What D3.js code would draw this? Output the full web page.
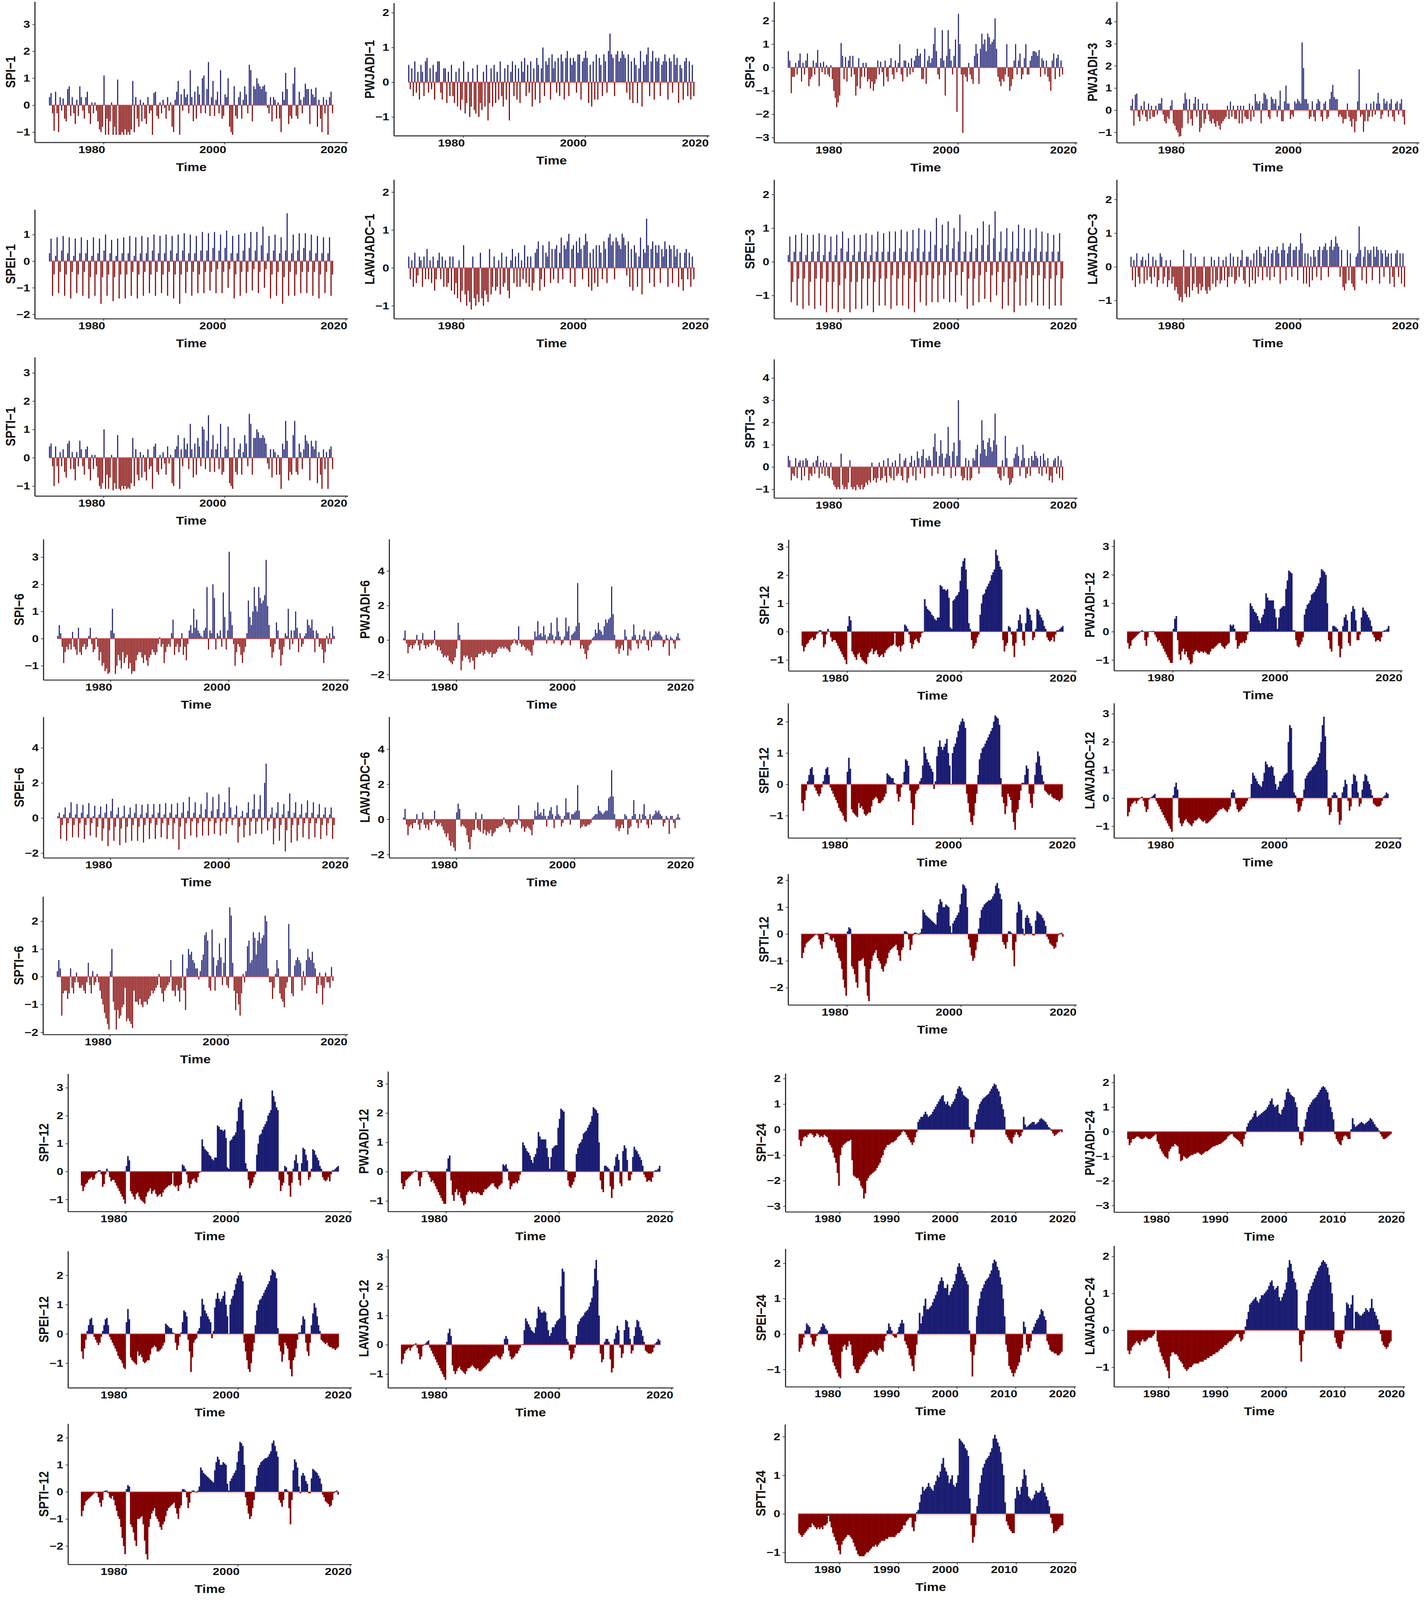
<!DOCTYPE html>
<html>
<head>
<meta charset="utf-8">
<script src="https://cdn.jsdelivr.net/npm/d3@7"></script>
<style>
  html, body { margin: 0; padding: 0; background: #fff; overflow: hidden; }
  #fig { display: block; width: 100vw; height: 100vh; }
  svg text { font-family: "Liberation Sans", Arial, Helvetica, sans-serif; font-weight: bold; fill: #111; }
</style>
</head>
<body>
<svg id="fig" viewBox="0 0 3647 4810" preserveAspectRatio="none"></svg>
<script>
// Drought index series, one value per quarter.
// 1-, 3- and 6-month indices start in 1971, 12-month in 1972, 24-month in 1973.

/**********************************************************************************
 * 1-month
 *********************************************************************************/
var spi1 = [
  0.3,0.45,-0.3,-0.95, 0.5,-0.3,-1,0.3, -0.2,0.25,-0.5,-0.6, 0.6,0.7,-0.4,0.3,
  -0.3,-0.7,0.2,-0.4, 0.7,0.3,-0.2,-0.5, 0.3,0.5,-0.3,-0.7, 0.1,-0.3,0.1,-0.2,
  -0.6,-0.9,-1,-0.8, 1.1,-1.1,-0.5,-1.1, -0.6,0.1,-1.1,-0.8, -1.1,0.95,-1.1,-1.1,
  -1,-1.1,-0.9,-1.1, -1,-1.1,-0.9,0.9, -1,0.3,-0.5,-0.8, 0.2,-0.6,0.1,-0.5,
  -0.7,0.3,-0.3,-0.2, -1.1,0.45,0.5,-0.4, -0.5,0.1,-0.3,0.2, -0.1,-0.5,0.3,-0.2,
  0.1,-0.8,-1,0.2, 0.5,0.9,-1.1,0.4, -0.2,0.6,0.3,0.4, -0.3,1.3,0.3,-0.6,
  0.5,-0.5,0.7,0.4, -0.3,1,1.1,-0.3, 0.6,1.6,-0.4,0.3, 0.9,-0.4,0.2,0.5,
  -0.3,1.3,-0.5,-0.4, 0.4,0.3,1,-0.8, -1,-1.1,0.7,-0.4, -0.5,0.3,0.5,-0.5,
  0.2,0.7,0.4,-0.3, 1.5,1.3,-0.6,0.7, 0.6,1,0.8,0.7, 0.6,0.7,0.75,0.5,
  -0.1,-0.3,0.3,-0.6, 0.3,0.2,-0.5,0.1, -0.5,-1,0.5,0.2, 1.2,0.6,-0.7,-0.4,
  -0.5,0.8,1.4,-0.4, -0.5,0.5,0.2,-0.3, 0.3,0.8,0.6,0.6, -0.7,0.6,0.4,0.3,
  0.65,-0.8,0.2,-0.5, -1,0.3,-0.3,0.2, -1.1,0.3,0.5,-0.3
];
var pwjadi1 = [
  0.5,-0.2,0.4,-0.4, 0.6,-0.3,0.3,-0.5, 0.5,0.3,-0.4,0.6, 0.7,-0.3,0.4,-0.2,
  0.5,-0.5,0.3,0.6, 0.6,-0.3,-0.5,0.4, 0.4,-0.6,0.3,-0.4, 0.5,-0.4,-0.6,0.3,
  -0.7,0.4,-0.8,-0.5, 0.6,-0.9,-0.6,0.3, -1,-0.7,0.4,-0.8, -0.9,0.5,-1,-0.6,
  -0.8,0.3,-0.7,0.5, -1.1,-0.6,0.4,-0.7, 0.5,-0.6,0.3,-0.5, 0.6,-0.4,-0.7,0.4,
  -0.5,0.5,-1.1,0.3, 0.6,-0.4,0.5,-0.5, 0.4,-0.6,0.6,0.3, 0.7,-0.4,0.5,-0.3,
  0.6,-0.7,0.4,-0.5, 0.7,0.5,-0.6,0.4, 1,-0.4,0.6,0.5, 0.7,-0.5,0.8,0.4,
  0.6,-0.3,0.7,-0.4, 0.8,0.6,-0.5,0.7, 0.9,-0.4,0.7,0.5, 0.7,0.6,-0.3,0.8,
  0.8,-0.5,0.6,0.7, 0.9,0.7,-0.6,0.5, -0.7,0.6,-0.5,0.8, -0.5,0.7,0.5,-0.4,
  0.8,0.6,-0.3,0.9, 1.4,0.8,0.7,-0.4, 0.8,0.9,0.6,0.7, 0.9,0.8,0.7,-0.3,
  0.8,-0.5,0.6,-0.6, 0.7,0.5,-0.6,0.4, 0.9,-0.7,0.6,0.5, 0.8,1,-0.4,0.6,
  0.9,-0.5,0.7,0.6, 0.7,-0.4,0.5,0.6, 0.8,0.6,-0.5,0.7, 0.6,-0.3,0.8,0.5,
  0.7,-0.6,0.5,0.4, -0.5,0.6,0.7,-0.4, 0.6,-0.5,0.5,-0.4
];
var spei1 = [
  0.3,0.85,-1.3,-0.5, 0.2,0.9,-1.2,-0.4, 0.4,0.95,-1.3,-0.5, 0.3,0.9,-1.4,-0.4,
  0.2,0.85,-1.2,-0.5, 0.3,0.9,-1.3,-0.4, 0.3,0.8,-1.4,-0.6, 0.2,0.9,-1.3,-0.5,
  0.3,0.85,-1.6,-0.6, 0.4,1,-1.3,-0.5, 0.3,0.8,-1.5,-0.6, 0.2,0.85,-1.4,-0.5,
  0.3,0.9,-1.4,-0.5, 0.3,0.95,-1.3,-0.4, 0.2,0.9,-1.4,-0.5, 0.3,0.95,-1.3,-0.4,
  0.3,0.9,-1.2,-0.5, 0.4,1,-1.3,-0.4, 0.3,0.95,-1.2,-0.5, 0.3,1,-1.3,-0.4,
  0.4,0.95,-1.4,-0.5, 0.3,1,-1.6,-0.5, 0.4,1.05,-1.2,-0.4, 0.3,1,-1.3,-0.4,
  0.3,0.95,-1.2,-0.5, 0.4,1.1,-1.2,-0.4, 0.4,1.05,-1.1,-0.4, 0.5,1.1,-1.2,-0.3,
  0.4,1,-1.2,-0.4, 0.5,1.15,-1,-0.3, 0.3,0.95,-1.4,-0.5, 0.3,1,-1.3,-0.4,
  0.4,1.05,-1.2,-0.4, 0.5,1.1,-1.1,-0.3, 0.4,1.1,-1.2,-0.4, 0.6,1.3,-1,-0.3,
  0.3,0.95,-1.4,-0.5, 0.4,1,-1.3,-0.4, 0.3,0.9,-1.6,-0.6, 0.4,1.8,-1.3,-0.4,
  0.3,1,-1.3,-0.5, 0.4,1.05,-1.2,-0.4, 0.5,1.05,-1.2,-0.4, 0.4,1,-1.3,-0.4,
  0.3,0.95,-1.4,-0.5, 0.3,0.9,-1.2,-0.4, 0.3,0.9,-1.3,-0.5
];
var lawjadc1 = [
  0.3,-0.3,0.2,-0.5, 0.4,-0.4,-0.2,0.3, 0.2,-0.5,0.3,-0.3, 0.5,-0.3,0.2,-0.4,
  0.3,-0.6,-0.3,0.2, 0.4,-0.3,0.3,-0.5, 0.2,-0.5,-0.4,0.3, -0.6,0.3,-0.7,-0.4,
  -0.8,0.2,-0.9,-0.6, 0.6,-0.7,-1,-0.6, -0.9,-1.1,0.3,-0.8, -1,-0.7,-0.9,0.4,
  -0.8,-1,-0.6,-0.7, -0.9,0.5,-0.7,-0.5, 0.3,-0.6,-0.5,0.2, -0.7,0.4,-0.5,-0.4,
  0.3,-0.6,-0.8,0.2, 0.5,-0.4,0.3,-0.5, 0.4,-0.5,0.2,-0.3, 0.6,-0.4,0.3,-0.5,
  0.3,-0.6,-0.4,0.4, 0.5,0.7,-0.6,-0.3, 0.6,-0.5,0.4,0.3, 0.7,-0.4,0.5,-0.3,
  0.5,0.6,-0.4,0.4, 0.8,-0.3,0.6,0.5, 0.7,0.9,-0.4,0.5, 0.6,-0.5,0.7,0.4,
  0.8,0.5,-0.3,0.6, 0.9,0.7,-0.5,0.4, -0.6,0.5,-0.4,0.6, -0.5,0.6,0.4,-0.3,
  0.7,0.5,-0.4,0.8, 0.9,0.6,0.7,-0.3, 0.8,0.7,0.6,0.5, 0.9,0.8,0.6,-0.2,
  0.7,-0.5,0.5,-0.6, 0.6,0.4,-0.5,0.3, 0.8,-0.7,0.5,0.4, 1.3,0.6,-0.4,0.5,
  0.7,-0.5,0.6,0.4, 0.6,-0.4,0.5,0.3, 0.7,0.5,-0.5,0.6, 0.5,-0.4,0.6,0.3,
  0.5,-0.5,0.4,-0.3, -0.6,0.4,0.5,-0.3, 0.4,-0.5,0.3,-0.3
];
var spti1 = [
  0.4,0.5,-0.3,-1, 0.4,-0.3,-0.9,0.2, -0.3,0.3,-0.5,-0.7, 0.5,0.6,-0.4,0.2,
  -0.4,-0.8,0.2,-0.3, 0.6,0.3,-0.3,-0.6, 0.3,0.4,-0.4,-0.8, 0.1,-0.4,0.1,-0.3,
  -0.7,-1,-1.1,-0.9, 1,-1.1,-0.6,-1.1, -0.7,0.1,-1.15,-0.9, -1.1,0.8,-1.1,-1.15,
  -1,-1.1,-1,-1.1, -1.05,-1.1,-0.9,0.7, -1,0.3,-0.6,-0.8, 0.2,-0.7,0.1,-0.5,
  -0.8,0.3,-0.4,-0.3, -1.1,0.4,0.5,-0.5, -0.6,0.1,-0.4,0.2, -0.2,-0.6,0.4,-0.2,
  0.1,-0.9,-1,0.3, 0.4,0.8,-1.1,0.3, -0.3,0.7,0.3,0.5, -0.4,1.2,0.3,-0.7,
  0.5,-0.6,0.7,0.4, -0.3,1.1,1,-0.4, 0.6,1.5,-0.5,0.3, 0.8,-0.5,0.3,0.5,
  -0.4,1.2,-0.6,-0.5, 0.4,0.3,1.1,-0.9, -1,-1.1,0.7,-0.5, -0.6,0.3,0.5,-0.6,
  0.2,0.8,0.5,-0.3, 1.55,1.2,-0.6,0.7, 0.7,1,0.9,0.7, 0.7,0.8,0.7,0.5,
  -0.2,-0.4,0.3,-0.7, 0.3,0.2,-0.6,0.1, -0.6,-1.1,0.5,0.3, 1.3,0.6,-0.8,-0.5,
  -0.6,0.8,1.3,-0.5, -0.6,0.5,0.2,-0.4, 0.3,0.8,0.6,0.5, -0.8,0.6,0.4,0.3,
  0.6,-0.9,0.2,-0.6, -1.1,0.3,-0.4,0.2, -1.1,0.3,0.4,-0.4
];

/**********************************************************************************
 * 3-month
 *********************************************************************************/
var spi3 = [
  0.7,0.3,-1.1,-0.4, -0.4,0.2,-0.3,0.3, 0.6,-0.6,0.2,-0.3, 0.3,0.6,-0.8,-0.5,
  -0.4,0.3,-0.3,0.2, 0.75,-0.8,0.2,-0.2, 0.25,-0.3,0.1,-0.3, -0.4,0.1,-0.5,-1,
  -1.3,-1.7,-1.5,-1.2, 1.05,0.5,-0.5,0.45, -0.6,0.3,0.5,-0.4, 0.5,-0.3,-1.2,-0.8,
  0.4,-0.9,-0.4,0.2, -0.4,0.2,-0.6,-0.5, -0.9,-0.6,-1,-0.7, -0.5,0.3,-0.3,0.25,
  -0.2,-0.8,0.3,-0.4, -0.6,0.1,0.4,-0.3, -0.5,0.3,-0.2,0.2, 1,-0.3,-0.6,0.3,
  0.3,-0.4,0.2,-0.3, 0.4,-0.2,0.3,0.5, 0.8,0.5,0.6,-0.5, -0.5,0.8,-0.7,0.3,
  0.5,0.2,0.4,1, 1.7,0.7,-0.3,-0.5, 0.4,1.6,0.3,-1.2, 0.5,1.6,0.8,0.3,
  -0.3,0.5,1.2,-1.9, 2.3,1,-0.3,-2.8, -0.3,-0.4,-0.6,0.2, -0.3,-0.5,-0.7,0.5,
  1,0.6,-0.7,0.8, 1.45,1,1.2,0.7, 1.45,1.3,1,1.1, 1.2,2.1,0.8,-0.4,
  -0.6,-0.8,-0.5,-0.6, -0.3,1,-0.4,-1, -0.8,-0.5,0.3,1, -0.3,0.3,0.6,-0.5,
  -0.3,0.4,1,-0.3, -0.3,0.3,0.5,0.7, 0.7,0.65,0.5,0.75, -0.4,0.4,0.3,-0.3,
  0.3,-0.4,-0.6,-1, 0.3,0.6,-0.5,0.4, 0.55,-0.4,0.3,-0.3
];
var pwjadi3 = [
  0.2,0.5,-0.7,0.7, 0.75,-0.3,-0.5,0.2, -0.2,0.4,-0.3,-0.5, 0.3,-0.4,0.2,-0.3,
  -0.3,0.2,-0.2,0.3, 0.3,0.55,-0.2,-0.5, -0.6,-0.3,-0.4,0.2, 0.45,-0.6,-0.7,-0.9,
  -1,-1.2,-1.17,-0.8, 0.3,0.78,0.5,-0.6, 0.5,-0.4,-0.7,0.3, 0.6,-0.3,0.5,-0.98,
  -0.8,0.3,-0.6,-0.4, 0.3,-0.2,-0.5,-0.6, -0.4,-0.6,-0.75,-0.5, -0.7,-0.88,-0.6,-0.5,
  -0.4,-0.3,0.2,-0.4, 0.39,-0.3,0.2,-0.4, -0.4,0.2,-0.6,0.2, -0.6,0.2,-0.3,-0.4,
  -0.4,0.3,-0.5,0.2, -0.3,0.73,0.4,0.3, 0.4,-0.6,0.3,0.78, 0.7,0.5,-0.3,-0.4,
  0.6,0.5,0.3,0.5, -0.3,0.2,0.88,-0.5, -0.5,0.4,1.11,0.3, 0.3,-0.4,-0.2,-0.3,
  0.4,0.3,0.5,0.4, 0.3,3.06,1.9,0.5, 0.5,0.3,-0.4,-0.3, 0.4,-0.3,-0.5,0.3,
  0.5,0.4,-0.3,-0.5, 0.3,0.4,-0.4,-0.3, 0.5,0.83,1.14,0.6, 0.5,0.5,-0.3,-0.2,
  -0.3,-0.6,-0.4,-0.4, 0.3,-0.3,-0.5,-0.75, -0.4,-1,-0.5,0.4, 1.84,-0.3,-0.2,-0.98,
  -0.5,0.3,-0.5,-0.3, 0.3,-0.3,0.4,-0.2, 0.3,0.78,0.3,-0.4, -0.2,0.52,0.3,0.4,
  -0.3,0.3,0.5,-0.3, -0.5,0.3,0.4,-0.2, 0.3,0.5,-0.3,-0.65
];
var spei3 = [
  0.2,0.75,-1.2,-0.6, 0.3,0.8,-1.3,-0.5, 0.3,0.85,-1.4,-0.5, 0.2,0.8,-1.3,-0.6,
  0.3,0.8,-1.4,-0.5, 0.3,0.85,-1.3,-0.5, 0.2,0.8,-1.5,-0.6, 0.3,0.75,-1.4,-0.6,
  0.2,0.8,-1.5,-0.7, 0.4,0.9,-1.4,-0.5, 0.3,0.7,-1.5,-0.6, 0.2,0.8,-1.4,-0.6,
  0.3,0.8,-1.4,-0.5, 0.3,0.85,-1.3,-0.5, 0.2,0.8,-1.5,-0.6, 0.3,0.9,-1.3,-0.5,
  0.3,0.85,-1.3,-0.5, 0.3,0.9,-1.4,-0.4, 0.3,0.9,-1.3,-0.5, 0.4,0.95,-1.3,-0.4,
  0.3,0.9,-1.4,-0.5, 0.3,0.95,-1.5,-0.6, 0.4,1,-1.2,-0.4, 0.3,0.95,-1.3,-0.4,
  0.3,0.9,-1.2,-0.5, 0.5,1.3,-1.2,-0.4, 0.4,1.1,-1.1,-0.4, 0.5,1.2,-1.2,-0.3,
  0.4,1,-1.2,-0.4, 0.6,1.4,-1,-0.3, 0.3,0.9,-1.4,-0.5, 0.3,0.8,-1.3,-0.5,
  0.4,1,-1.2,-0.4, 0.5,1.2,-1.1,-0.3, 0.5,1.1,-1.2,-0.4, 0.7,1.5,-1,-0.3,
  0.3,0.9,-1.4,-0.6, 0.4,1,-1.3,-0.5, 0.3,0.9,-1.5,-0.6, 0.4,1.1,-1.3,-0.4,
  0.3,1,-1.3,-0.5, 0.3,0.95,-1.2,-0.4, 0.4,1,-1.3,-0.4, 0.3,0.9,-1.3,-0.5,
  0.3,0.85,-1.4,-0.5, 0.3,0.8,-1.3,-0.4, 0.3,0.85,-1.3,-0.5
];
var lawjadc3 = [
  0.3,-0.4,0.2,-0.6, 0.4,-0.3,-0.5,0.2, 0.3,-0.5,0.2,-0.4, 0.4,-0.3,-0.5,0.3,
  -0.3,0.2,-0.6,-0.4, 0.4,0.3,-0.5,-0.3, 0.2,-0.6,-0.4,0.2, -0.5,-0.3,-0.7,-0.6,
  -0.8,-1,-0.9,-1.05, 0.5,-0.8,-0.9,-0.6, -0.9,0.4,-0.7,-0.5, 0.3,-0.6,-0.8,-0.5,
  -0.7,-0.6,0.3,-0.7, -0.8,-0.6,-0.7,0.3, -0.5,0.2,-0.6,-0.4, 0.3,-0.5,-0.4,0.2,
  -0.4,0.3,-0.6,-0.3, 0.4,-0.3,0.3,-0.5, -0.4,0.3,-0.3,0.2, 0.5,-0.4,-0.5,0.3,
  0.3,-0.6,0.2,-0.4, 0.4,-0.5,0.5,-0.3, 0.6,0.4,-0.4,0.3, 0.5,-0.3,0.6,-0.4,
  0.4,0.5,-0.3,0.5, 0.6,0.4,-0.5,0.5, 0.7,0.5,-0.4,0.4, 0.6,0.7,-0.3,0.5,
  0.5,0.6,-0.4,0.5, 1,0.7,-0.5,0.4, -0.5,0.4,-0.6,0.3, -0.4,0.5,0.3,-0.3,
  0.5,0.6,-0.4,0.5, 0.6,0.7,0.5,-0.3, 0.6,0.8,0.5,0.6, 0.9,0.7,0.6,-0.3,
  0.5,-0.6,-0.7,-0.5, 0.5,-0.4,0.4,-0.5, -0.6,-0.7,0.3,0.4, 1.2,0.5,-0.4,0.3,
  0.6,-0.5,0.5,0.4, 0.5,-0.4,0.6,0.3, 0.6,0.5,-0.5,0.5, 0.4,-0.3,0.5,0.3,
  0.4,-0.5,0.4,-0.3, -0.6,0.4,0.5,-0.3, 0.4,-0.5,0.4,-0.6
];
var spti3 = [
  0.5,0.3,-0.6,-0.3, -0.4,0.4,-0.5,0.2, 0.3,-0.6,0.3,-0.4, 0.4,0.3,-0.6,-0.3,
  -0.4,0.2,-0.3,0.3, 0.5,-0.5,0.2,-0.3, 0.3,-0.4,0.2,-0.4, -0.5,0.2,-0.6,-0.8,
  -0.9,-1,-0.9,-1, 0.6,-0.8,-1,-0.9, -1,-0.7,0.3,-0.9, -1,-0.9,-1.05,-0.8,
  -0.9,-1,-0.8,-1, -0.9,-0.7,-0.8,-0.6, -0.7,0.2,-0.6,-0.5, -0.7,-0.5,0.2,-0.6,
  -0.5,0.3,-0.4,-0.7, 0.4,-0.4,-0.5,0.2, -0.6,0.3,-0.4,-0.3, 0.6,-0.4,-0.6,0.3,
  0.4,-0.7,-0.5,0.2, 0.5,-0.4,0.3,-0.6, 0.7,0.4,-0.3,0.5, 0.8,-0.5,0.4,0.3,
  0.5,0.3,-0.4,0.9, 1.5,0.7,-0.3,0.5, 1.2,0.6,-0.4,0.4, 0.6,1.8,0.5,-0.5,
  0.7,1.1,-0.4,0.5, 3,1.2,-0.4,-0.6, -0.5,0.4,-0.6,0.3, -0.6,-0.5,0.4,0.3,
  0.8,1,-0.3,0.6, 2.1,1.2,0.8,0.5, 1.1,1.3,0.9,0.7, 1.2,2.4,1,-0.3,
  -0.5,-0.6,0.3,-0.4, 1.4,0.4,-0.5,-0.8, -0.7,-0.5,0.4,0.6, 0.9,0.5,-0.4,0.3,
  1,0.4,-0.5,-0.3, 0.4,-0.4,0.5,0.3, 0.7,0.5,0.4,-0.3, 0.5,-0.4,0.6,0.3,
  -0.3,0.4,-0.6,-0.4, -0.7,0.3,0.4,-0.3, 0.5,-0.5,0.3,-0.6
];

/**********************************************************************************
 * 6-month
 *********************************************************************************/
var spi6 = [
  0.1,0.5,0.2,-0.3, -0.9,-0.5,-0.3,-0.4, -0.2,-0.4,0.25,-0.3, -0.4,-0.6,0.4,-0.5,
  -0.6,-0.3,-0.2,-0.4, -0.3,0.1,0.4,-0.2, -0.5,-0.4,0.05,-0.3, -0.8,-0.5,-1,-0.9,
  -1.2,-1.1,-1.3,-1.25, 0.3,1.1,0.2,-1.3, -1,-0.6,-0.8,-1.1, -0.5,-0.9,-0.7,-0.6,
  -1.1,-0.9,-1.3,-1.2, -1.2,-0.8,-0.6,-0.5, -0.5,-0.7,-0.9,-0.6, -0.8,-1,-0.7,-0.6,
  -0.4,-0.5,-0.6,-0.5, -0.2,0.05,-0.3,-0.2, -0.9,-0.5,-0.3,-0.2, -0.3,0.2,0.7,-0.6,
  -0.3,-0.2,-0.5,-0.3, 0.2,-0.6,-0.3,-0.8, -0.2,0.3,0.5,0.2, 1.1,0.4,0.7,0.3,
  0.2,0.1,0.05,0.3, 0.4,1.9,-0.4,0.3, 0.2,2,1.5,-0.4, 0.2,0.1,0.3,-0.3,
  1.7,0.8,-0.4,0.3, 3.2,1,0.5,-0.2, -1,-0.5,-0.2,-0.3, -0.6,-0.9,-0.5,-0.3,
  0.2,1.4,0.8,0.5, 1,1.9,1.2,1, 1.9,1.5,1.3,1.4, 1.6,2.9,1.2,0.5,
  -0.3,-0.7,-0.5,-0.2, 0.6,0.3,-0.4,-1, -0.6,-0.3,0.2,0.1, 1.1,-0.4,0.3,-0.2,
  0.3,1,0.4,-0.5, 0.2,-0.3,-0.2,0.1, 0.2,0.7,0.5,0.4, 0.7,0.3,-0.5,0.3,
  0.2,-0.3,-0.2,-0.4, -0.9,-0.5,0.1,-0.2, 0.2,-0.2,0.45,0.1
];
var pwjadi6 = [
  0.1,0.55,-0.2,-0.76, -0.4,-0.3,-0.5,-0.3, -0.2,0.3,-0.3,-0.6, -0.2,0.4,-0.3,-0.5,
  -0.3,-0.4,-0.2,-0.3, -0.2,0.55,-0.3,-0.6, -0.4,-0.6,-0.8,-1, -0.9,-1,-0.9,-1.2,
  -1.3,-1.4,-1.2,-1, -0.5,1,0.3,-1.75, -1.2,-0.9,-1,-0.9, -1.1,-1.3,-1,-1.2,
  -1.7,-1,-1,-0.8, -0.8,-0.7,-0.9,-0.8, -0.6,-0.7,-0.8,-0.7, -1,-0.8,-0.8,-0.7,
  -0.5,-0.4,-0.5,-0.4, -0.5,-0.4,-0.5,-0.6, -0.7,-0.3,-0.2,0.05, -0.2,-0.3,0.8,-0.2,
  -0.4,-0.3,-0.4,-0.6, -0.5,-0.6,-0.7,-0.9, -0.3,0.5,0.2,1.1, 0.3,0.4,0.2,0.8,
  0.3,-0.2,0.2,0.4, 1,0.3,-0.2,0.2, 1.3,0.5,0.2,-0.3, -0.2,0.2,1.3,0.5,
  0.8,-0.3,0.3,0.4, 0.5,0.8,3.3,1, -0.5,-0.3,-0.5,-0.8, -1.1,-0.6,-0.3,-0.2,
  0.1,0.2,0.6,0.4, 1,0.6,0.5,0.3, 0.8,1.2,1,1.2, 1.3,3.1,1.5,0.3,
  -0.5,-0.4,-0.8,-0.5, -0.3,-0.6,0.6,0.2, -0.9,-0.5,-0.6,0.2, 0.9,0.3,-0.2,-0.5,
  0.3,-0.2,0.2,0.6, 0.2,-0.3,-0.6,0.5, -0.4,0.2,0.3,0.5, 0.4,0.5,0.3,0.2,
  -0.4,-0.2,0.3,0.1, -0.9,0.2,0.1,-0.2, -0.5,0.2,0.4,0.1
];
var spei6 = [
  0.1,0.3,-1.2,-0.4, 0.2,0.6,-1.3,-0.3, 0.3,0.9,-1.1,-0.4, 0.2,0.8,-1.1,-0.3,
  0.3,0.75,-1.2,-0.4, 0.2,0.85,-1,-0.3, 0.1,0.7,-1.1,-0.5, 0.2,0.65,-1.3,-0.6,
  0.3,0.8,-1.6,-0.7, 0.4,1.1,-1.3,-0.5, 0.2,0.6,-1.55,-0.6, 0.1,0.7,-1.4,-0.5,
  0.2,0.6,-1.3,-0.4, 0.3,0.8,-1.3,-0.5, 0.2,0.75,-1.4,-0.4, 0.3,0.8,-1.2,-0.3,
  0.2,0.8,-1.2,-0.4, 0.3,0.8,-1.1,-0.3, 0.2,0.85,-1.2,-0.4, 0.3,0.8,-1.2,-0.3,
  0.2,0.85,-1.8,-0.5, 0.3,0.9,-1.2,-0.3, 0.4,1.2,-1,-0.2, 0.3,0.9,-1.1,-0.3,
  0.2,0.8,-1,-0.2, 0.5,1.45,-1,-0.2, 0.4,1.2,-0.9,-0.3, 0.5,1.35,-1,-0.2,
  0.3,0.9,-0.9,-0.2, 1.75,0.6,-0.4,-0.1, 0.2,0.7,-1.4,-0.5, 0.1,0.4,-1.1,-0.4,
  0.3,0.9,-1,-0.2, 0.5,1.35,-0.9,-0.2, 0.5,1.3,-0.9,-0.1, 2,3.1,-0.7,-0.2,
  0.2,0.6,-1.5,-0.6, 0.3,0.9,-1.3,-0.4, 0.2,0.8,-1.9,-0.7, 0.4,1.4,-1.4,-0.4,
  0.3,0.9,-1.3,-0.4, 0.2,0.8,-1.1,-0.3, 0.3,1,-1.2,-0.3, 0.3,0.9,-1.1,-0.3,
  0.2,0.8,-1.2,-0.4, 0.2,0.6,-1,-0.3, 0.2,0.6,-1.2,-0.4
];
var lawjadc6 = [
  0.1,0.6,-0.3,-0.9, -0.4,-0.3,-0.5,-0.2, -0.2,0.3,-0.3,-0.6, -0.2,0.4,-0.3,-0.5,
  -0.3,-0.6,-0.2,-0.3, -0.1,0.5,-0.2,-0.4, -0.3,-0.2,-0.4,-0.6, -0.8,-1,-0.8,-1.2,
  -1.5,-1.3,-1.6,-1.8, 0.4,0.9,0.6,-0.4, -0.3,-0.4,-0.5,-0.9, -1.3,-1.7,-1,-0.6,
  -0.6,0.4,-0.5,-0.6, -0.7,0.3,-0.8,-0.6, -0.9,-0.7,-0.8,-0.6, -0.96,-0.8,-0.7,-0.5,
  -0.5,-0.4,-0.4,-0.3, 0.1,-0.2,-0.3,-0.5, -0.73,-0.4,-0.3,-0.1, -0.2,-0.3,0.8,-0.1,
  -0.5,-0.4,-0.7,-0.5, -0.4,-0.5,-0.6,-0.9, -0.3,0.5,0.2,0.97, 0.3,0.4,0.2,0.6,
  0.2,-0.4,0.2,0.5, 0.7,0.3,-0.5,0.2, 0.8,0.3,0.2,-0.4, -0.2,0.2,1.2,0.4,
  0.4,-0.3,0.3,0.3, 0.4,0.5,1.95,0.5, -0.5,-0.4,-0.3,-0.4, -0.4,-0.3,-0.3,-0.2,
  0.1,0.2,0.3,0.3, 0.77,0.5,0.4,0.3, 0.4,0.5,0.5,1.2, 1.3,2.8,1.3,0.3,
  -0.5,-0.4,-0.67,-0.5, -0.3,-0.5,0.3,0.2, -0.86,-0.5,-0.4,0.2, 1.1,0.3,-0.2,-0.5,
  0.3,-0.2,0.3,0.87, 0.2,-0.3,-0.5,0.3, -0.3,0.2,0.3,0.5, 0.4,0.5,0.3,0.2,
  -0.4,-0.2,0.2,0.1, -0.83,0.2,0.2,-0.2, -0.5,0.1,0.3,0.1
];
var spti6 = [
  0.2,0.6,0.3,-1.4, -0.6,-0.5,-0.5,-0.8, -0.6,0.3,-0.4,-0.6, -0.2,0.15,-0.2,-0.4,
  -0.4,-0.3,-0.5,-0.6, -0.2,0.5,-0.3,-0.6, 0.2,-0.3,-0.2,0.1, -0.2,-0.5,-0.8,-1,
  -1.3,-1.5,-1.7,-1.9, 0.2,1,-0.9,-1.2, -1.9,-1.2,-1.5,-1.4, -1.1,-1,-0.4,-1.6,
  -1.5,-1.6,-1.7,-1.85, -0.5,-0.9,-0.9,-1, -0.8,-1,-1.1,-0.9, -0.9,-1,-0.8,-0.7,
  -0.5,-0.6,-0.5,-0.4, -0.3,0.1,-0.4,-0.6, -0.9,-0.5,-0.4,-0.3, -0.2,0.6,-0.5,-0.5,
  -0.7,-0.3,-0.5,-0.9, -0.4,0.8,-0.5,-1.2, 0.3,1,0.8,0.9, 0.6,0.5,0.3,0.3,
  -0.1,0.2,0.6,0.8, 1.5,1.6,1.3,-0.4, -0.5,1.7,0.7,-0.5, 0.4,0.6,1.2,0.7,
  -0.3,0.5,1.4,-0.3, -0.4,2.5,2.2,0.5, -0.5,-1.2,-0.6,-1, -1.4,-0.6,0.1,-0.2,
  0.2,1.1,1.3,0.5, 0.6,1.6,1.4,0.8, 1.3,1.6,1.2,1.4, 1.5,2.2,2,0.3,
  -0.2,-0.2,-0.8,-0.4, 0.1,0.6,0.3,-0.6, -0.8,-0.9,-1.1,-0.4, -0.2,1.9,1,-0.6,
  -0.7,0.4,0.6,0.7, 0.6,0.5,-0.5,0.2, -0.3,0.6,1,0.7, 0.6,0.9,0.5,0.3,
  -0.6,-0.3,0.15,-0.3, -1,-0.4,0.15,-0.2, -0.2,-0.4,0.35,-0.15
];

/**********************************************************************************
 * 12-month (from 1972)
 *********************************************************************************/
var spi12 = [
  -0.5,-0.7,-0.55,-0.45, -0.4,-0.3,-0.25,-0.2, -0.3,-0.25,-0.1,-0.05, 0.05,0.05,-0.1,-0.55,
  -0.45,-0.1,0.1,0.02, -0.2,-0.35,-0.3,-0.3, -0.4,-0.5,-0.6,-0.7, -0.8,-0.9,-1,-1.15,
  0.2,0.55,0.4,-0.7, -0.8,-0.9,-1,-0.8, -0.75,-0.9,-1,-1.05, -1.1,-1.15,-0.9,-0.75,
  -0.7,-0.6,-0.8,-0.7, -0.65,-0.8,-0.9,-0.85, -0.8,-0.9,-0.75,-0.65, -0.6,-0.55,-0.5,-0.5,
  -0.45,-0.05,-0.5,-0.55, -0.5,-0.7,-0.5,-0.45, 0.25,0.2,0.1,-0.1, -0.4,-0.6,-0.45,-0.3,
  -0.25,-0.35,-0.4,-0.2, -0.05,-0.02,1.15,0.9, 0.8,0.75,0.7,0.6, 0.55,0.45,0.4,0.5,
  0.5,1.65,1.6,1.5, 1.5,1.45,1.5,1.2, 0.15,0.1,1.1,1.15, 1.25,1.3,1.4,1.8,
  2.3,2.5,2.6,2.2, 1.5,0.3,0.1,-0.3, -0.6,-0.5,-0.4,-0.2, -0.1,0.6,1,1.3,
  1.35,1.5,1.6,1.7, 1.8,2,2.1,2.2, 2.9,2.7,2.5,2.3, 2.2,-0.3,-0.7,-0.5,
  -0.4,0.2,0.15,-0.1, -0.5,-0.9,-0.4,0.1, 0.4,0.6,0.3,-0.3, -0.5,0.3,0.85,0.8,
  0.6,0.4,-0.3,-0.2, 0.1,0.8,0.75,0.6, 0.5,0.4,0.2,0.1, -0.2,-0.3,-0.35,-0.3,
  -0.2,-0.35,-0.1,0.05, 0.05,0.1,0.15,0.2
];
var pwjadi12 = [
  -0.4,-0.6,-0.5,-0.3, -0.25,-0.2,-0.15,-0.1, -0.05,0.02,0.05,0.02, -0.3,-0.5,-0.2,0.02,
  0.02,0.02,0.03,-0.1, -0.2,-0.35,-0.3,-0.4, -0.5,-0.6,-0.7,-0.8, -0.9,-1,-1.1,-1.1,
  0.1,0.45,0.55,-0.3, -0.8,-1,-0.7,-0.6, -0.8,-0.7,-0.9,-1, -1.15,-1.1,-0.8,-0.7,
  -0.65,-0.7,-0.75,-0.7, -0.7,-0.75,-0.7,-0.75, -0.8,-0.8,-0.7,-0.6, -0.6,-0.55,-0.5,-0.45,
  -0.4,-0.4,-0.5,-0.55, -0.6,-0.5,-0.45,-0.4, 0.25,0.2,0.25,0.1, -0.3,-0.6,-0.5,-0.4,
  -0.4,-0.35,-0.4,-0.3, -0.1,0.02,1,0.9, 0.8,0.7,0.65,0.55, 0.4,0.3,0.5,0.6,
  0.8,1.35,1.2,1.1, 1.1,1.1,1.1,0.8, 0.5,0.1,0.5,0.8, 0.85,0.9,0.9,1.5,
  1.8,2.15,2.1,2.05, 0.05,0.05,-0.3,-0.5, -0.55,-0.45,-0.35,-0.2, 0.6,0.8,0.95,1,
  1.1,1.3,1.35,1.4, 1.5,1.6,1.7,1.9, 2.2,2.15,2.1,2, 1,-0.3,-0.6,-0.7,
  0.2,0.2,0.15,0.1, -0.5,-0.9,-0.6,0.2, 0.5,0.6,0.4,-0.4, -0.5,0.7,0.9,0.8,
  0.4,-0.3,-0.3,-0.1, 0.5,0.85,0.75,0.7, 0.6,0.5,0.4,0.2, -0.1,-0.2,-0.35,-0.3,
  -0.3,-0.35,-0.2,0.02, 0.05,0.05,0.1,0.2
];
var spei12 = [
  -0.6,-0.85,-0.5,-0.2, 0.1,0.3,0.5,0.55, 0.3,-0.1,-0.2,-0.3, -0.38,-0.3,-0.1,0.1,
  0.3,0.5,0.55,0.3, -0.1,-0.2,-0.3,-0.4, -0.5,-0.6,-0.75,-0.85, -0.9,-1,-1.15,-1.2,
  0.4,0.85,0.5,-0.8, -0.9,-0.95,-1,-1.05, -0.6,-0.75,-0.7,-0.8, -0.95,-1,-0.95,-0.9,
  -0.9,-0.7,-0.5,-0.45, -0.4,-0.45,-0.6,-0.6, -0.55,-0.5,-0.4,-0.3, 0.35,0.3,0.25,0.2,
  0.2,0.05,0.02,-0.3, -0.55,-0.4,-0.1,0.05, 0.4,0.8,0.75,0.6, -0.2,-0.6,-1.3,-0.8,
  -0.3,-0.2,-0.15,0.1, 0.2,0.6,1.2,1, 0.8,0.7,0.6,0.5, 0.4,-0.15,0.1,0.9,
  1.2,1.4,1.2,1.1, 1.2,1.3,1.45,1, 0.6,0,1,1.2, 1.3,1.5,1.7,1.9,
  2,2.1,2,1.8, -0.3,-0.6,-0.9,-1.2, -1.3,-1,-0.6,-0.3, 0.3,0.8,1,1.15,
  1.2,1.3,1.4,1.5, 1.6,1.7,1.8,2, 2.2,2.15,2.1,1.9, 0.2,-0.4,-0.6,-0.95,
  -0.7,-0.3,-0.4,-0.5, -0.9,-1.2,-1.45,-0.9, -0.8,-0.5,-0.2,0.05, 0.05,0.3,0.6,0.5,
  -0.3,-0.6,-0.75,-0.3, 0.3,0.7,1.05,0.9, 0.6,0.3,0.1,-0.2, -0.25,-0.3,-0.35,-0.3,
  -0.4,-0.45,-0.45,-0.5, -0.5,-0.55,-0.5,-0.45
];
var lawjadc12 = [
  -0.65,-0.5,-0.3,-0.2, -0.15,-0.1,-0.2,-0.1, -0.05,0.02,0.05,-0.1, -0.3,-0.5,-0.4,-0.05,
  0.02,0.05,0.1,0.15, -0.1,-0.2,-0.3,-0.4, -0.5,-0.6,-0.7,-0.8, -0.9,-1,-1.1,-1.2,
  0.1,0.4,0.55,0.3, -0.7,-0.9,-1,-0.9, -0.8,-0.75,-0.85,-0.9, -0.95,-1,-0.9,-0.8,
  -0.8,-0.75,-0.7,-0.75, -0.8,-0.85,-0.8,-0.9, -0.9,-0.85,-0.8,-0.75, -0.7,-0.65,-0.6,-0.5,
  -0.45,-0.4,-0.4,-0.35, -0.4,-0.45,-0.5,-0.4, -0.3,0.2,0.3,0.2, -0.2,-0.4,-0.5,-0.45,
  -0.4,-0.3,-0.3,-0.2, -0.1,0,0.02,0.5, 0.9,0.8,0.7,0.6, 0.5,0.45,0.4,0.6,
  0.9,1.3,1.2,1.1, 1.1,1.15,1.1,0.8, 0.5,0.3,0.4,0.6, 0.6,0.7,0.8,0.85,
  0.9,2,2.6,2.5, 1,0.2,0.1,-0.2, -0.5,-0.45,-0.3,-0.1, 0.3,0.7,0.8,0.9,
  0.95,1,1.1,1.15, 1.2,1.3,1.45,1.6, 2,2.6,2.9,2.2, 1,-0.3,-0.6,-0.5,
  0.1,0.2,0.2,0.1, -0.5,-0.95,-0.8,0.2, 0.4,0.65,0.5,-0.1, -0.45,-0.3,0.5,0.85,
  0.8,0.6,0.2,-0.3, -0.2,0.3,0.6,0.85, 0.8,0.6,0.5,0.3, 0.1,-0.2,-0.25,-0.3,
  -0.3,-0.3,-0.25,-0.1, 0.05,0.1,0.2,0.15
];
var spti12 = [
  -0.9,-0.7,-0.5,-0.35, -0.3,-0.25,-0.2,-0.15, -0.1,-0.05,-0.02,-0.05, -0.2,-0.4,-0.55,-0.3,
  0.03,0.05,0.05,-0.05, -0.2,-0.25,-0.15,-0.3, -0.5,-0.7,-0.9,-1, -1.3,-1.7,-2,-2.3,
  0.1,0.25,0.2,-1.2, -1.3,-1.5,-1.8,-2, -1,-1,-0.95,-0.9, -1.2,-1.8,-2.3,-2.5,
  -1.3,-1,-0.8,-0.7, -0.6,-0.9,-1,-1.1, -1.3,-1.4,-1.2,-1.1, -0.9,-0.7,-0.6,-0.55,
  -0.5,-0.45,-0.4,-0.6, -0.8,-1,-0.6,-0.5, 0.1,0.1,0.05,-0.2, -0.6,-0.4,-0.05,0.05,
  0.05,0.02,-0.03,0.05, 0.2,0.9,0.8,0.7, 0.65,0.6,0.55,0.5, 0.45,0.4,0.35,0.8,
  1.1,1.3,1.2,1, 1,1.1,1.05,1, 0.3,0.05,0.4,0.5, 0.6,0.7,0.8,1.1,
  1.5,1.85,1.8,1.7, 1,-0.2,-0.5,-0.8, -1,-0.9,-0.6,-0.3, 0.2,0.6,0.9,1,
  1.1,1.15,1.2,1.25, 1.25,1.3,1.4,1.5, 1.8,1.9,1.7,1.5, 1.3,-0.3,-0.4,-0.55,
  -0.3,0.1,0.1,0.05, -0.6,-1.2,-0.3,0.8, 1.2,1.1,0.9,0.2, -0.05,0.6,0.7,0.6,
  0.4,0.3,-0.05,-0.05, 0.5,0.85,0.8,0.75, 0.7,0.6,0.5,0.3, -0.1,-0.2,-0.35,-0.4,
  -0.45,-0.55,-0.5,-0.3, -0.05,0.03,0.05,-0.1
];

/**********************************************************************************
 * 24-month (from 1973)
 *********************************************************************************/
var spi24 = [
  -0.4,-0.65,-0.45,-0.3, -0.25,-0.3,-0.2,-0.15, -0.15,-0.2,-0.3,-0.25, -0.15,-0.2,-0.3,-0.25,
  -0.3,-0.2,-0.25,-0.3, -0.5,-0.6,-0.7,-0.9, -1.1,-1.3,-1.7,-2.2, -1,-0.7,-0.6,-0.55,
  -0.5,-0.45,-0.45,-0.4, -1.2,-1.8,-1.85,-1.9, -1.9,-2,-2.2,-2.3, -2.7,-2.5,-2,-1.9,
  -1.8,-1.75,-1.7,-1.65, -1.6,-1.5,-1.4,-1.3, -1.1,-1,-0.8,-0.7, -0.6,-0.6,-0.55,-0.5,
  -0.5,-0.45,-0.4,-0.3, -0.25,-0.2,-0.1,-0.05, -0.1,-0.2,-0.3,-0.4, -0.5,-0.6,-0.5,-0.3,
  -0.1,0.3,0.4,0.5, 0.5,0.6,0.7,0.6, 0.5,0.55,0.6,0.7, 0.8,0.9,1,1.1,
  1.2,1.3,1.35,1.1, 1,1.1,0.95,0.9, 1,1.1,1.2,1.4, 1.6,1.7,1.65,1.5,
  1.35,1.3,1.25,1.2, 0.1,-0.3,-0.55,-0.3, 0.3,0.6,0.8,1, 1.1,1.2,1.25,1.3,
  1.35,1.4,1.5,1.6, 1.7,1.8,1.75,1.6, 1.5,1.3,1,0.8, 0.5,-0.2,-0.3,-0.4,
  -0.5,-0.55,-0.3,-0.2, -0.1,-0.2,-0.3,-0.25, -0.1,0.5,0.2,0.1, 0.15,0.2,0.25,0.3,
  0.3,0.2,0.25,0.3, 0.4,0.45,0.4,0.35, 0.3,0.2,0.1,0.05, -0.05,-0.15,-0.25,-0.2,
  -0.15,-0.1,-0.05,-0.1
];
var pwjadi24 = [
  -0.3,-0.55,-0.45,-0.3, -0.3,-0.25,-0.2,-0.2, -0.25,-0.3,-0.3,-0.25, -0.2,-0.25,-0.3,-0.3,
  -0.25,-0.2,-0.15,-0.1, -0.4,-0.5,-0.7,-0.8, -0.9,-1,-1.05,-1.1, -0.8,-0.7,-0.6,-0.6,
  -0.5,-0.55,-0.6,-0.9, -1.2,-1.15,-1,-1.05, -1.1,-1.05,-1,-0.95, -0.95,-0.9,-0.9,-0.85,
  -0.85,-0.9,-0.95,-0.9, -0.85,-0.8,-0.8,-0.75, -0.7,-0.65,-0.6,-0.6, -0.55,-0.55,-0.5,-0.5,
  -0.45,-0.4,-0.35,-0.3, -0.2,-0.15,-0.1,-0.1, -0.2,-0.25,-0.3,-0.35, -0.4,-0.5,-0.6,-0.3,
  -0.1,0.2,0.35,0.45, 0.5,0.6,0.75,0.85, 0.6,0.65,0.7,0.75, 0.8,0.85,0.9,1,
  1.1,1.25,1.35,1.1, 1,1.05,1.1,0.75, 0.7,0.9,1,1.3, 1.6,1.75,1.6,1.5,
  1.45,1.4,1.2,1, 0.2,-0.3,-0.55,-0.4, 0.2,0.5,0.8,1, 1.1,1.2,1.3,1.35,
  1.4,1.5,1.6,1.7, 1.8,1.85,1.8,1.7, 1.6,1.3,1,0.8, 0.5,-0.1,-0.3,-0.4,
  -0.5,-0.55,-0.35,-0.2, -0.15,-0.2,-0.3,-0.3, 0.1,0.55,0.3,0.2, 0.25,0.3,0.35,0.4,
  0.35,0.3,0.35,0.4, 0.45,0.55,0.5,0.4, 0.3,0.2,0.15,0.05, -0.1,-0.2,-0.3,-0.3,
  -0.25,-0.2,-0.15,-0.1
];
var spei24 = [
  -0.5,-0.4,-0.3,-0.1, 0.1,0.3,0.25,0.2, -0.1,-0.3,-0.35,-0.2, -0.05,0.05,0.1,0.2,
  0.3,0.25,0.15,0.1, -0.3,-0.45,-0.6,-0.8, -0.9,-1,-1.1,-1.2, -1.25,-0.5,-0.35,-0.3,
  -0.45,-0.35,-0.2,-0.3, -0.6,-0.9,-1,-1.1, -1.1,-1,-0.9,-0.85, -0.8,-0.7,-0.65,-0.55,
  -0.5,-0.5,-0.45,-0.5, -0.55,-0.6,-0.45,-0.4, -0.45,-0.5,-0.2,-0.05, 0.1,0.3,0.2,0.1,
  -0.05,-0.1,-0.1,0.05, 0.2,0.3,0.4,0.3, -0.2,-0.3,-0.4,-0.6, -0.7,-0.9,-1.05,-0.6,
  -0.3,0.1,0.6,0.3, 0.5,0.8,1,0.7, 0.7,0.75,0.8,0.9, 1,1.1,1.2,1.4,
  1.5,1.6,1.5,1.3, 1.3,1.4,1.1,1.2, 1.3,1.4,1.5,1.7, 1.9,2,1.9,1.8,
  1.7,1.6,1.5,1.4, 0.1,-0.5,-1.2,-0.6, -0.3,0.5,0.8,1, 1.2,1.3,1.4,1.5,
  1.55,1.6,1.7,1.8, 2,2.1,2.05,1.9, 1.8,1.6,1.4,1, 0.5,-0.3,-0.5,-0.9,
  -1,-1.1,-1.2,-1.1, -1,-0.9,-0.8,-0.6, -0.4,0.35,0.2,-0.3, -0.5,-0.4,-0.2,0.1,
  0.2,0.3,0.4,0.45, 0.55,0.7,0.65,0.5, 0.4,-0.2,-0.3,-0.45, -0.5,-0.5,-0.55,-0.55,
  -0.6,-0.6,-0.55,-0.5
];
var lawjadc24 = [
  -0.55,-0.65,-0.55,-0.45, -0.4,-0.35,-0.3,-0.35, -0.4,-0.3,-0.25,-0.3, -0.3,-0.25,-0.2,-0.2,
  -0.2,-0.15,-0.1,0, -0.3,-0.45,-0.6,-0.7, -0.8,-0.9,-1,-1.1, -1.3,-0.7,-0.6,-0.6,
  -0.65,-0.65,-0.7,-0.8, -0.85,-0.9,-1,-1.05, -1.1,-1.05,-1,-1, -0.95,-0.9,-0.9,-0.9,
  -0.9,-0.85,-0.85,-0.85, -0.8,-0.8,-0.75,-0.75, -0.7,-0.7,-0.65,-0.65, -0.6,-0.6,-0.55,-0.5,
  -0.5,-0.45,-0.4,-0.4, -0.35,-0.3,-0.3,-0.25, -0.2,-0.15,-0.1,-0.1, -0.2,-0.3,-0.25,-0.1,
  0.1,0.3,0.5,0.7, 0.75,0.8,0.85,0.9, 0.8,0.75,0.85,0.95, 0.95,1,1.05,1.1,
  1.2,1.3,1.35,1.2, 1.1,1.15,1.2,0.9, 0.8,0.9,1,1.1, 1.3,1.7,1.9,1.8,
  1.6,1.4,1.3,1.1, 0.05,-0.4,-0.85,-0.3, -0.1,0.4,0.8,1, 1.1,1.2,1.3,1.4,
  1.5,1.6,1.7,1.75, 1.85,1.9,1.85,1.8, 1.7,1.5,1.3,1, 0.5,-0.2,-0.35,-0.45,
  -0.5,-0.5,-0.3,-0.1, 0.4,0.75,0.7,0.6, 0.7,0.95,0.05,0.5, 0.5,0.45,0.4,0.4,
  0.45,0.5,0.6,0.55, 0.5,0.6,0.85,0.6, 0.5,0.4,0.3,0.15, -0.1,-0.3,-0.4,-0.45,
  -0.5,-0.45,-0.35,-0.3
];
var spti24 = [
  -0.5,-0.55,-0.6,-0.55, -0.5,-0.45,-0.4,-0.35, -0.35,-0.25,-0.3,-0.35, -0.4,-0.35,-0.4,-0.35,
  -0.4,-0.3,-0.3,-0.25, -0.05,-0.2,-0.35,-0.5, -0.6,-0.7,-0.8,-0.95, -1.05,-0.8,-0.7,-0.65,
  -0.6,-0.55,-0.55,-0.6, -0.65,-0.75,-0.85,-0.95, -1.05,-1.1,-1.1,-1.1, -1.1,-1.05,-1,-1,
  -0.95,-0.9,-0.85,-0.85, -0.8,-0.85,-0.8,-0.75, -0.7,-0.7,-0.7,-0.65, -0.65,-0.6,-0.6,-0.6,
  -0.6,-0.6,-0.55,-0.5, -0.5,-0.45,-0.4,-0.3, -0.3,-0.2,-0.15,-0.1, -0.1,-0.35,-0.45,-0.2,
  0.05,0.1,0.3,0.5, 0.7,0.6,0.65,0.7, 0.8,0.7,0.65,0.6, 0.75,0.85,1,0.95,
  1.1,1.3,1.45,1.2, 1.1,1,0.8,0.9, 1,0.75,0.7,0.8, 1,1.95,1.9,1.85,
  1.8,1.7,1.65,1.5, 0.4,-0.3,-0.75,-0.6, -0.3,0.2,0.5,0.8, 1,1.2,1.3,1.4,
  1.45,1.5,1.6,1.7, 1.95,2.05,1.95,1.85, 1.75,1.6,1.3,1, 0.3,-0.2,-0.3,-0.4,
  -0.45,-0.5,-0.5,0.4, 0.7,0.6,0.5,0.7, 0.9,1.15,1,0.7, 0.45,0.4,0.35,0.4,
  0.5,0.6,0.55,0.55, 0.6,0.8,0.7,0.55, 0.45,0.35,0.2,-0.1, -0.25,-0.5,-0.45,-0.45,
  -0.4,-0.35,-0.3,-0.3
];

// tick labels
var yearTicks = [1980, 2000, 2020];
var yearTicks24 = [1980, 1990, 2000, 2010, 2020];

/**********************************************************************************
 * Panel layout: box = [left, top, right, bottom] of the axes, lim = y limits
 *********************************************************************************/
var M = "\u2212";
var panels = [
  // 1-month / 3-month block
  {title: "SPI" + M + "1",     values: spi1,     start: 1971, box: [89, 5, 890, 428],      lim: [-1.38, 3.84], thin: true},
  {title: "PWJADI" + M + "1",  values: pwjadi1,  start: 1971, box: [1008, 9, 1815, 408],   lim: [-1.54, 2.28], thin: true},
  {title: "SPI" + M + "3",     values: spi3,     start: 1971, box: [1981, 5, 2757, 429],   lim: [-3.22, 2.82], thin: true},
  {title: "PWJADI" + M + "3",  values: pwjadi3,  start: 1971, box: [2858, 5, 3632, 429],   lim: [-1.47, 4.9],  thin: true},
  {title: "SPEI" + M + "1",    values: spei1,    start: 1971, box: [89, 630, 890, 958],    lim: [-2.16, 1.94], thin: true},
  {title: "LAWJADC" + M + "1", values: lawjadc1, start: 1971, box: [1008, 540, 1815, 958], lim: [-1.34, 2.33], thin: true},
  {title: "SPEI" + M + "3",    values: spei3,    start: 1971, box: [1981, 540, 2757, 958], lim: [-1.69, 2.44], thin: true},
  {title: "LAWJADC" + M + "3", values: lawjadc3, start: 1971, box: [2858, 540, 3632, 958], lim: [-1.54, 2.59], thin: true},
  {title: "SPTI" + M + "1",    values: spti1,    start: 1971, box: [89, 1074, 890, 1491],  lim: [-1.35, 3.55], thin: true},
  {title: "SPTI" + M + "3",    values: spti3,    start: 1971, box: [1981, 1080, 2757, 1497], lim: [-1.39, 4.84], thin: true},
  // 6-month block
  {title: "SPI" + M + "6",     values: spi6,     start: 1971, box: [111, 1621, 893, 2044], lim: [-1.52, 3.66], thin: true},
  {title: "PWJADI" + M + "6",  values: pwjadi6,  start: 1971, box: [996, 1621, 1777, 2044], lim: [-2.31, 5.84], thin: true, step: 2},
  {title: "SPEI" + M + "6",    values: spei6,    start: 1971, box: [111, 2155, 893, 2579], lim: [-2.27, 5.76], thin: true, step: 2},
  {title: "LAWJADC" + M + "6", values: lawjadc6, start: 1971, box: [996, 2155, 1777, 2579], lim: [-2.19, 5.84], thin: true, step: 2},
  {title: "SPTI" + M + "6",    values: spti6,    start: 1971, box: [110, 2695, 890, 3110], lim: [-2.08, 2.89], thin: true},
  // 12-month block, right
  {title: "SPI" + M + "12",     values: spi12,     start: 1972, box: [2018, 1622, 2755, 2017], lim: [-1.39, 3.26]},
  {title: "PWJADI" + M + "12",  values: pwjadi12,  start: 1972, box: [2851, 1622, 3589, 2016], lim: [-1.37, 3.24]},
  {title: "SPEI" + M + "12",    values: spei12,    start: 1972, box: [2017, 2114, 2753, 2519], lim: [-1.71, 2.59]},
  {title: "LAWJADC" + M + "12", values: lawjadc12, start: 1972, box: [2851, 2114, 3587, 2519], lim: [-1.42, 3.38]},
  {title: "SPTI" + M + "12",    values: spti12,    start: 1972, box: [2017, 2627, 2755, 3021], lim: [-2.64, 2.24]},
  // 12-month block, left
  {title: "SPI" + M + "12",     values: spi12,     start: 1972, box: [174, 3228, 900, 3642],  lim: [-1.43, 3.5]},
  {title: "PWJADI" + M + "12",  values: pwjadi12,  start: 1972, box: [993, 3221, 1723, 3642], lim: [-1.36, 3.42]},
  {title: "SPEI" + M + "12",    values: spei12,    start: 1972, box: [174, 3761, 900, 4172],  lim: [-1.84, 2.83]},
  {title: "LAWJADC" + M + "12", values: lawjadc12, start: 1972, box: [993, 3755, 1723, 4172], lim: [-1.47, 3.27]},
  {title: "SPTI" + M + "12",    values: spti12,    start: 1972, box: [174, 4280, 900, 4703],  lim: [-2.68, 2.52]},
  // 24-month block
  {title: "SPI" + M + "24",     values: spi24,     start: 1973, box: [2010, 3227, 2753, 3643], lim: [-3.22, 2.2],  years: yearTicks24},
  {title: "PWJADI" + M + "24",  values: pwjadi24,  start: 1973, box: [2851, 3229, 3595, 3644], lim: [-3.27, 2.34], years: yearTicks24},
  {title: "SPEI" + M + "24",    values: spei24,    start: 1973, box: [2010, 3754, 2753, 4169], lim: [-1.49, 2.41], years: yearTicks24},
  {title: "LAWJADC" + M + "24", values: lawjadc24, start: 1973, box: [2851, 3745, 3595, 4169], lim: [-1.53, 2.29], years: yearTicks24},
  {title: "SPTI" + M + "24",    values: spti24,    start: 1973, box: [2009, 4282, 2755, 4697], lim: [-1.26, 2.32], years: yearTicks24}
];

var POS = "#1b1d72", NEG = "#820000", ZERO = "#cc4a4a";
var STEP = 0.25; // one quarter

var svg = d3.select("#fig");

function drawPanel(p) {
  var x0 = p.box[0], y0 = p.box[1], x1 = p.box[2], y1 = p.box[3];
  var end = p.start + p.values.length * STEP;
  var pad = 0.05 * (end - p.start);

  var x = d3.scaleLinear().domain([p.start - pad, end + pad]).range([x0, x1]);
  var y = d3.scaleLinear().domain(p.lim).range([y1, y0]);

  var g = svg.append("g");
  var full = x(p.start + STEP) - x(p.start);
  var bw = p.thin ? full * 0.72 : full + 0.5;

  g.append("g").selectAll("rect")
    .data(p.values)
    .enter().append("rect")
    .attr("x", function (d, i) { return x(p.start + i * STEP); })
    .attr("width", bw)
    .attr("y", function (d) { return y(Math.max(0, d)); })
    .attr("height", function (d) { return Math.abs(y(d) - y(0)); })
    .attr("fill", function (d) { return d >= 0 ? POS : NEG; });

  g.append("line")
    .attr("x1", x(p.start)).attr("x2", x(end))
    .attr("y1", y(0)).attr("y2", y(0))
    .attr("stroke", ZERO).attr("stroke-width", 2.5);

  // y axis
  var step = p.step || 1;
  var yt = d3.range(Math.ceil(p.lim[0] / step) * step, p.lim[1] + 1e-9, step);
  var ya = g.append("g")
    .attr("transform", "translate(" + x0 + ",0)")
    .call(d3.axisLeft(y).tickValues(yt).tickFormat(d3.format("d")).tickSize(6).tickSizeOuter(0).tickPadding(6));

  // x axis
  var xa = g.append("g")
    .attr("transform", "translate(0," + y1 + ")")
    .call(d3.axisBottom(x).tickValues(p.years || yearTicks).tickFormat(d3.format("d")).tickSize(6).tickSizeOuter(0).tickPadding(4));
  xa.selectAll("text").attr("text-anchor", "end").attr("x", 4);

  [ya, xa].forEach(function (a) {
    a.select(".domain").attr("stroke", "#333").attr("stroke-width", 3);
    a.selectAll(".tick line").attr("stroke", "#333").attr("stroke-width", 2);
    a.selectAll("text").style("font-size", "31px").attr("fill", "#111");
  });

  g.append("text")
    .attr("transform", "translate(" + (x0 - 62) + "," + ((y0 + y1) / 2) + ") rotate(-90)")
    .attr("text-anchor", "middle")
    .attr("dy", "0.35em")
    .style("font-size", "35px")
    .text(p.title);

  g.append("text")
    .attr("x", (x0 + x1) / 2)
    .attr("y", y1 + 86)
    .attr("text-anchor", "middle")
    .style("font-size", "34px")
    .text("Time");
}

panels.forEach(drawPanel);
</script>
</body>
</html>
